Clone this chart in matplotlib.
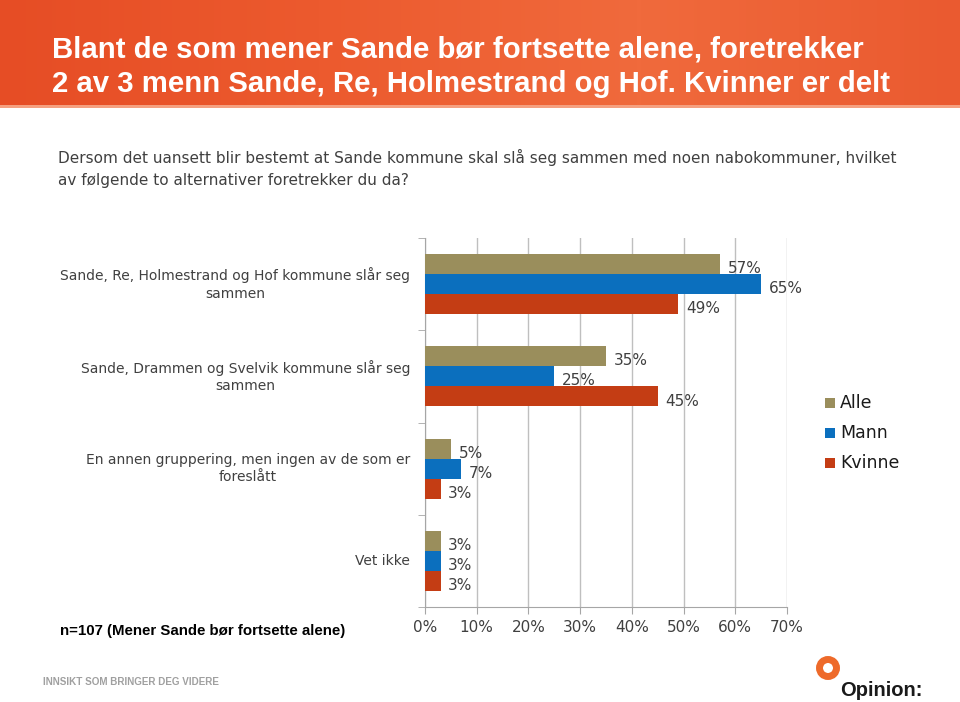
import matplotlib
matplotlib.use("Agg")
import matplotlib.pyplot as plt
import numpy as np
from matplotlib.patches import Rectangle, Circle
from matplotlib.colors import LinearSegmentedColormap

categories = [
    "Sande, Re, Holmestrand og Hof kommune slår seg\nsammen",
    "Sande, Drammen og Svelvik kommune slår seg\nsammen",
    "En annen gruppering, men ingen av de som er\nforeslått",
    "Vet ikke",
]
series = ["Alle", "Mann", "Kvinne"]
alle = [57, 35, 5, 3]
mann = [65, 25, 7, 3]
kvinne = [49, 45, 3, 3]
x_ticks = [0, 10, 20, 30, 40, 50, 60, 70]

COLORS = ["#9A8E5C", "#0B6FBE", "#C43D14"]
TEXT = "#404040"
FONT = "DejaVu Sans"

fig = plt.figure(figsize=(9.6, 7.02), dpi=100)

# background layer in pixel coordinates
bg = fig.add_axes([0, 0, 1, 1], zorder=-1)
bg.set_xlim(0, 960)
bg.set_ylim(702, 0)
bg.axis("off")
grad = np.linspace(0, 1, 256).reshape(1, -1)
cmap = LinearSegmentedColormap.from_list("hdr", ["#E64D25", "#EC5A2E", "#F06A3C", "#EA5A30"])
bg.imshow(grad, extent=[0, 960, 105, 0], aspect="auto", cmap=cmap)
bg.add_patch(Rectangle((0, 105), 960, 3, color="#F5A080", lw=0))
bg.text(52, 50, "Blant de som mener Sande bør fortsette alene, foretrekker",
        color="white", fontsize=21.2, fontweight="bold", family="Liberation Sans", va="center")
bg.text(52, 84, "2 av 3 menn Sande, Re, Holmestrand og Hof. Kvinner er delt",
        color="white", fontsize=21.2, fontweight="bold", family="Liberation Sans", va="center")
bg.text(58, 157, "Dersom det uansett blir bestemt at Sande kommune skal slå seg sammen med noen nabokommuner, hvilket",
        color=TEXT, fontsize=11, family=FONT, va="center")
bg.text(58, 180, "av følgende to alternativer foretrekker du da?",
        color=TEXT, fontsize=11, family=FONT, va="center")
bg.text(60, 631, "n=107 (Mener Sande bør fortsette alene)", color="black",
        fontsize=10.8, fontweight="bold", family="Liberation Sans", va="center")
bg.text(43, 682, "INNSIKT SOM BRINGER DEG VIDERE", color="#A0A0A0",
        fontsize=7.1, fontweight="bold", family="Liberation Sans", va="center")
bg.add_patch(Circle((828, 668), 8.5, facecolor="white", edgecolor="#EE6A2A", lw=5))
bg.text(840, 690, "Opinion:", color="#1a1a1a", fontsize=14.5, fontweight="bold",
        family="Liberation Sans", va="center")

# chart
ax = fig.add_axes([425 / 960, 1 - 607 / 702, 362 / 960, 369 / 702])
n = len(categories)
y = np.arange(n)
h = 0.217
offsets = [-h, 0, h]
for vals, off, col in zip([alle, mann, kvinne], offsets, COLORS):
    ax.barh(y + off, vals, height=h, color=col, zorder=3)
    for yi, v in zip(y, vals):
        ax.text(v + 1.5, yi + off + 0.05, f"{v}%", ha="left", va="center",
                fontsize=11, color=TEXT, family=FONT)

ax.set_xlim(0, 70)
ax.set_ylim(n - 0.5, -0.5)
ax.set_xticks(x_ticks)
ax.set_xticklabels([f"{t}%" for t in x_ticks], fontsize=11, color=TEXT, family=FONT)
ax.grid(axis="x", color="#BFBFBF", lw=1, zorder=0)
ax.set_yticks(y)
ax.set_yticklabels([])
ax.set_yticks(np.arange(-0.5, n, 1), minor=True)
ax.tick_params(axis="y", which="major", length=0)
ax.tick_params(axis="y", which="minor", length=5, color="#A6A6A6", direction="out")
ax.tick_params(axis="x", length=5, color="#A6A6A6", pad=4)
for s in ["top", "right"]:
    ax.spines[s].set_visible(False)
for s in ["left", "bottom"]:
    ax.spines[s].set_color("#A6A6A6")

for yi, lab in zip(y, categories):
    ax.text(-2.9, yi, lab, ha="right", va="center", fontsize=10, color=TEXT,
            family=FONT, multialignment="center", linespacing=1.3)

# legend
for i, (name, col) in enumerate(zip(series, COLORS)):
    yy = 403 + 30 * i
    bg.add_patch(Rectangle((825, yy - 5), 10, 10, color=col, lw=0))
    bg.text(840, yy, name, fontsize=12.5, color="#1a1a1a", family=FONT, va="center")

fig.savefig("out.png", dpi=100)
